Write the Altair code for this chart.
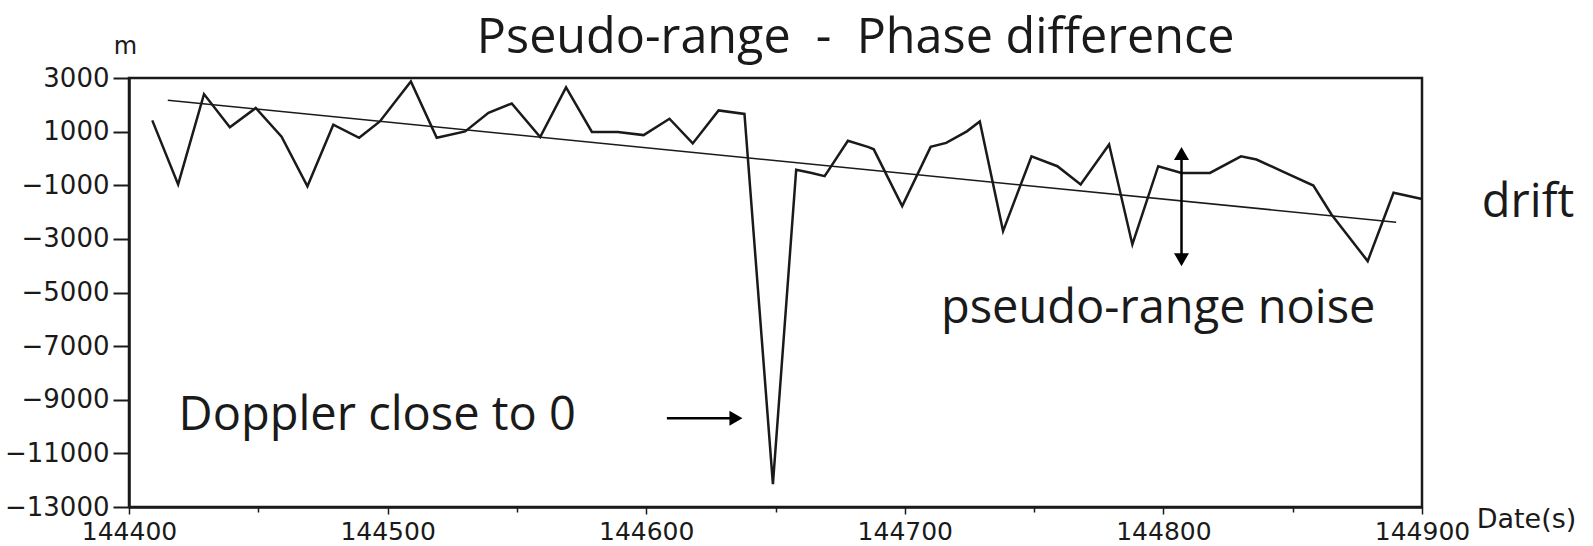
import altair as alt
import pandas as pd

# Pseudo-range minus carrier-phase difference (time in s, value in m)
t_s = [144409, 144419, 144429, 144439, 144449, 144459, 144469, 144479, 144489, 144497,
       144509, 144519, 144530, 144539, 144548, 144559, 144569, 144579, 144589, 144599,
       144609, 144618, 144628, 144638, 144649, 144658, 144664, 144669, 144678, 144686,
       144688, 144699, 144710, 144716, 144724, 144729, 144738, 144749, 144759, 144768,
       144779, 144788, 144798, 144807, 144818, 144830, 144836, 144846, 144858, 144865,
       144879, 144889, 144900]
diff_m = [1420, -970, 2400, 1160, 1880, 810, -1040, 1260, 770, 1380,
          2870, 770, 1010, 1700, 2050, 800, 2650, 990, 990, 870,
          1480, 560, 1790, 1660, -12150, -420, -540, -660, 660, 420,
          340, -1780, 430, 580, 1010, 1380, -2710, 80, -290, -970,
          520, -3210, -290, -540, -540, 80, -40, -480, -1010, -2090,
          -3830, -1280, -1510]

# Linear drift fitted through the samples
trend_t = [144415, 144890]
trend_m = [2170, -2380]

# Heading and text annotations, placed in data space
title_text = ["Pseudo-range\u00a0\u00a0-\u00a0\u00a0Phase difference"]
title_t = [144681]
title_m = [3942]
note_text = ["Doppler close to 0", "pseudo-range noise", "drift"]
note_t = [144496, 144798, 144941]
note_m = [-9600, -5600, -1650]

# Arrow shafts (start/end) and arrow heads
shaft_t = [144807, 144608]
shaft_t2 = [144807, 144634]
shaft_m = [188, -9689]
shaft_m2 = [-3775, -9689]
head_t = [144807, 144807, 144634.7]
head_m = [188, -3775, -9689]
head_shape = ["triangle-up", "triangle-down", "triangle-right"]

INK = "#1a1a1a"
TXT_FONT = "Open Sans"
AX_FONT = "DejaVu Sans"

series = pd.DataFrame({"t": t_s, "m": diff_m})
trend = pd.DataFrame({"t": trend_t, "m": trend_m})
heading = pd.DataFrame({"t": title_t, "m": title_m, "label": title_text})
notes = pd.DataFrame({"t": note_t, "m": note_m, "label": note_text})
shafts = pd.DataFrame({"t": shaft_t, "t2": shaft_t2, "m": shaft_m, "m2": shaft_m2})
heads = pd.DataFrame({"t": head_t, "m": head_m, "shape": head_shape})

x_scale = alt.Scale(domain=[144400, 144900], nice=False, zero=False)
y_scale = alt.Scale(domain=[-13000, 3000], nice=False, zero=False)

x_axis = alt.Axis(
    values=list(range(144400, 144901, 50)),
    format="d",
    labelExpr="datum.value % 100 == 0 ? datum.label : ''",
    tickSize=alt.condition("datum.value % 100 == 0", alt.value(7), alt.value(5)),
    tickColor=INK, tickWidth=1.5,
    domainColor=INK, domainWidth=2.5,
    labelFont=AX_FONT, labelFontSize=25, labelColor=INK, labelPadding=5,
    labelFlush=False,
    grid=False,
    title="Date(s)", titleFont=AX_FONT, titleFontSize=27, titleFontWeight="normal",
    titleColor=INK, titleX=1397, titleY=12, titleAlign="center", titleBaseline="middle",
)
y_axis = alt.Axis(
    values=list(range(-13000, 3001, 1000)),
    format="d",
    labelExpr="abs(datum.value) % 2000 == 1000 ? datum.label : ''",
    tickSize=alt.condition("abs(datum.value) % 2000 == 1000", alt.value(16), alt.value(10)),
    tickColor=INK, tickWidth=2,
    domainColor=INK, domainWidth=2.5,
    labelFont=AX_FONT, labelFontSize=26, labelColor=INK, labelPadding=4,
    labelFlush=False,
    grid=False,
    title="m", titleFont=AX_FONT, titleFontSize=24, titleFontWeight="normal",
    titleColor=INK, titleAngle=0, titleX=-4, titleY=-32,
    titleAlign="center", titleBaseline="middle",
)

line = alt.Chart(series).mark_line(color=INK, strokeWidth=2.5, interpolate="linear").encode(
    x=alt.X("t:Q", scale=x_scale, axis=x_axis),
    y=alt.Y("m:Q", scale=y_scale, axis=y_axis),
)

drift = alt.Chart(trend).mark_line(color=INK, strokeWidth=1.6).encode(
    x=alt.X("t:Q", scale=x_scale),
    y=alt.Y("m:Q", scale=y_scale),
)

head_text = alt.Chart(heading).mark_text(
    font=TXT_FONT, fontSize=48.5, color=INK, align="center", baseline="alphabetic"
).encode(
    x=alt.X("t:Q", scale=x_scale),
    y=alt.Y("m:Q", scale=y_scale),
    text="label:N",
)

text = alt.Chart(notes).mark_text(
    font=TXT_FONT, fontSize=47, color=INK, align="center", baseline="middle"
).encode(
    x=alt.X("t:Q", scale=x_scale),
    y=alt.Y("m:Q", scale=y_scale),
    text="label:N",
)

arrow_shaft = alt.Chart(shafts).mark_rule(color="black", strokeWidth=2.5).encode(
    x=alt.X("t:Q", scale=x_scale),
    x2="t2:Q",
    y=alt.Y("m:Q", scale=y_scale),
    y2="m2:Q",
)

arrow_head = alt.Chart(heads).mark_point(filled=True, size=225, color="black", opacity=1).encode(
    x=alt.X("t:Q", scale=x_scale),
    y=alt.Y("m:Q", scale=y_scale),
    shape=alt.Shape("shape:N", scale=None, legend=None),
)

chart = alt.layer(line, drift, arrow_shaft, arrow_head, text, head_text).properties(
    width=1293,
    height=429,
    autosize=alt.AutoSizeParams(type="none"),
    padding={"left": 129, "top": 78, "right": 171, "bottom": 39},
).configure_view(
    stroke=INK, strokeWidth=2.5
)

chart.save("out.html", embed_options={"renderer": "svg", "actions": False})
